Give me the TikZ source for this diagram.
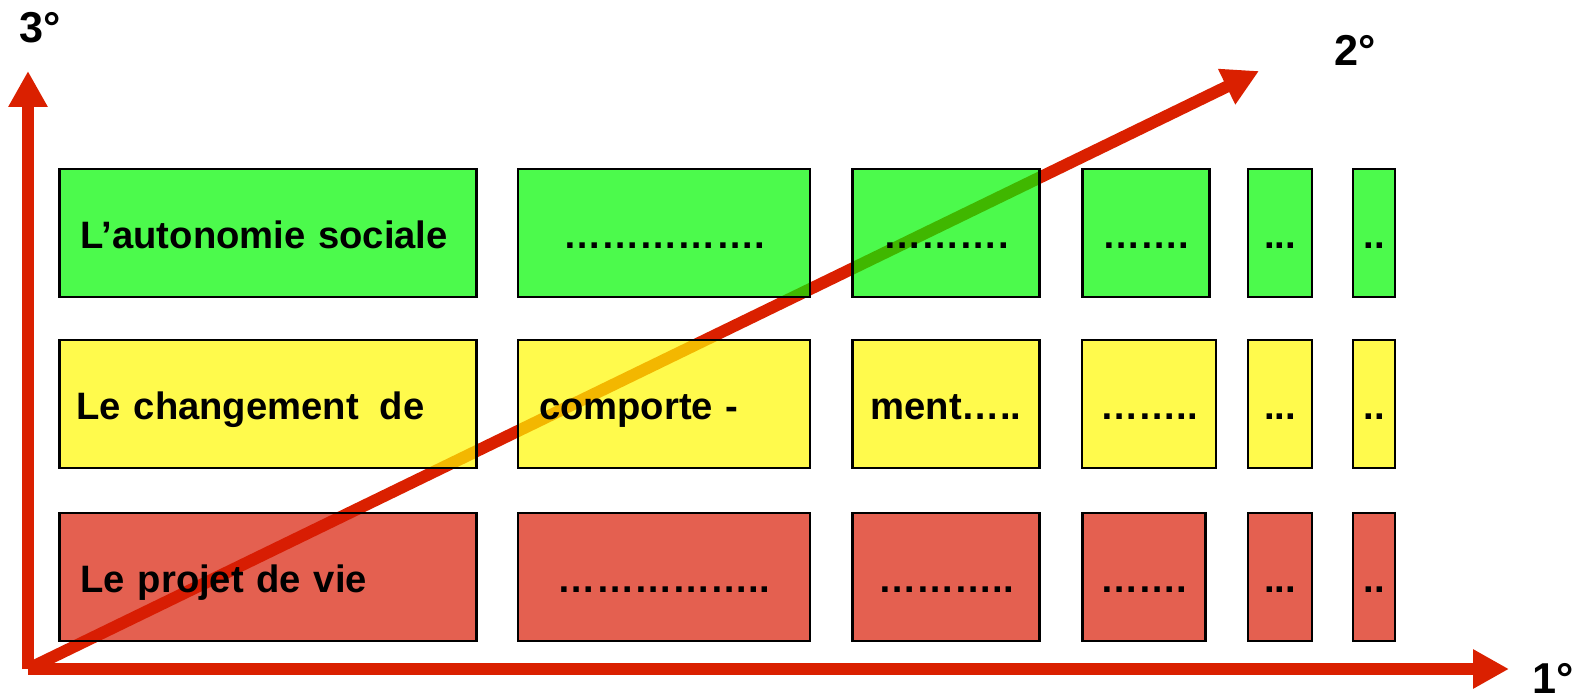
\documentclass[tikz,border=0pt]{standalone}
\usepackage{fontspec}
\setmainfont{Liberation Sans}
\usetikzlibrary{arrows.meta}

\definecolor{axisred}{RGB}{218, 32, 0}
\definecolor{rowgreen}{RGB}{0, 248, 0}
\definecolor{rowyellow}{RGB}{255, 248, 0}
\definecolor{rowred}{RGB}{216, 28, 5}

\begin{document}
\begin{tikzpicture}[
	axis/.style = {axisred, line width = 0.12cm, -{Triangle[length = 3.6mm, width = 3.7mm]}},
	cell/.style = {draw, line width = 0.6pt, fill = #1, fill opacity = 0.7, text opacity = 1, minimum height = 1.285cm, inner sep = 0pt, text height = 0.9em, text depth = 0pt, font = \bfseries\fontsize{10.87}{13}\selectfont},
	lefttext/.style = {text width = #1, align = left, inner xsep = 0.21cm},
	axislabel/.style = {font = \bfseries\fontsize{12.3}{14}\selectfont}
	]
	 \useasboundingbox (0, 0) rectangle (15.84, 6.98);
	 
	 \coordinate (O) at (0.28, 0.29);
	 \coordinate (E1) at (15.09, 0.29);
	 \coordinate (E2) at (12.59, 6.27);
	 \coordinate (E3) at (0.28, 6.27);
	 
	 \draw[axis] (O) -- (E1);
	 \draw[axis] (O) -- (E3);
	 \draw[axis] (O) -- (E2);
	 
	 \node[axislabel] (l1) at (15.53, 0.20) {1°};
	 \node[axislabel] (l2) at (13.55, 6.48) {2°};
	 \node[axislabel] (l3) at (0.40, 6.70) {3°};
	 
	 \node[cell = rowgreen, minimum width = 4.17cm, lefttext = 3.75cm] (g1) at (2.68, 4.65) {L’autonomie sociale};
	 \node[cell = rowgreen, minimum width = 2.92cm] (g2) at (6.64, 4.65) {…………….};
	 \node[cell = rowgreen, minimum width = 1.87cm] (g3) at (9.46, 4.65) {……….};
	 \node[cell = rowgreen, minimum width = 1.27cm] (g4) at (11.46, 4.65) {…….};
	 \node[cell = rowgreen, minimum width = 0.64cm] (g5) at (12.80, 4.65) {...};
	 \node[cell = rowgreen, minimum width = 0.42cm] (g6) at (13.74, 4.65) {..};
	 
	 \node[cell = rowyellow, minimum width = 4.17cm, lefttext = 3.75cm] (y1) at (2.68, 2.94) {\hspace*{-0.04cm}Le changement\hspace{0.55em}de};
	 \node[cell = rowyellow, minimum width = 2.92cm, lefttext = 2.50cm] (y2) at (6.64, 2.94) {comporte -};
	 \node[cell = rowyellow, minimum width = 1.87cm] (y3) at (9.46, 2.94) {ment…..};
	 \node[cell = rowyellow, minimum width = 1.34cm] (y4) at (11.49, 2.94) {……..};
	 \node[cell = rowyellow, minimum width = 0.64cm] (y5) at (12.80, 2.94) {...};
	 \node[cell = rowyellow, minimum width = 0.42cm] (y6) at (13.74, 2.94) {..};
	 
	 \node[cell = rowred, minimum width = 4.17cm, lefttext = 3.75cm] (r1) at (2.68, 1.21) {Le projet de vie};
	 \node[cell = rowred, minimum width = 2.92cm] (r2) at (6.64, 1.21) {……………..};
	 \node[cell = rowred, minimum width = 1.87cm] (r3) at (9.46, 1.21) {………..};
	 \node[cell = rowred, minimum width = 1.23cm] (r4) at (11.44, 1.21) {…….};
	 \node[cell = rowred, minimum width = 0.64cm] (r5) at (12.80, 1.21) {...};
	 \node[cell = rowred, minimum width = 0.42cm] (r6) at (13.74, 1.21) {..};
\end{tikzpicture}
\end{document}
